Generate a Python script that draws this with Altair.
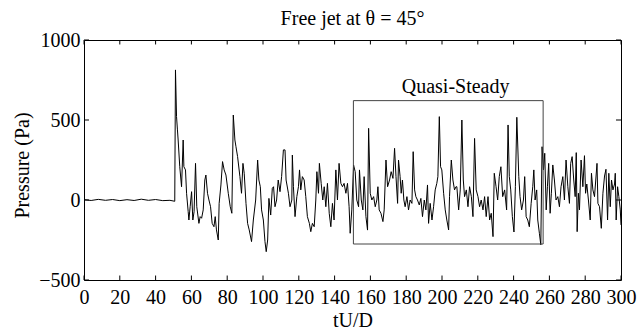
import altair as alt
import pandas as pd

# ---- data ----
t_vals = [
    0, 4, 8, 12, 16, 20, 24, 28, 32, 36, 40, 44, 48, 50.7,
    51.1, 51.7, 52.2, 52.6, 53.5, 54.5, 55.4, 55.8, 56.7, 57.3, 58.2, 58.6, 59.3, 60.1,
    60.8, 61.5, 62.3, 63.0, 64.2, 64.9, 65.7, 66.6, 67.5, 68.1, 69.0, 69.8, 70.7, 71.6,
    72.6, 73.3, 74.0, 75.0, 75.5, 76.5, 77.4, 78.3, 79.3, 80.6, 81.7, 82.6, 83.4, 84.3,
    84.9, 85.8, 87.1, 88.0, 88.8, 89.5, 90.5, 91.4, 92.3, 93.6, 94.6, 95.9, 97.0, 97.7,
    98.5, 99.2, 100.2, 101.1, 101.8, 102.6, 103.3, 104.3, 105.2, 105.9, 106.7, 107.6,
    108.5, 109.5, 110.4,
    111.4, 112.3, 112.9, 114.2, 115.1, 116.1, 116.4, 117.0, 117.9, 118.9, 119.8, 120.4,
    121.1, 122.0, 123.0, 123.9, 124.8, 125.9, 126.7, 127.6, 128.6, 129.5, 130.1, 131.0,
    131.5, 132.5, 133.4, 134.2, 135.1, 136.0, 137.0, 137.9, 138.8, 139.7, 140.7, 141.6,
    142.5, 143.5, 144.4, 145.3, 146.3, 147.2, 148.1, 148.7, 149.6, 150.6, 151.5, 152.4,
    153.4, 153.9, 154.9, 155.8, 156.5, 157.5, 158.4, 159.0, 159.9, 160.8, 161.8, 162.7,
    163.6, 164.2, 164.9, 165.9, 167.0, 167.7, 168.7, 169.6, 170.7, 171.6, 172.6, 173.5,
    174.3, 175.2,
    175.7, 176.6, 177.2, 177.9, 178.7, 179.4, 180.4, 181.3, 182.2, 183.2, 183.9, 184.7,
    185.4, 186.3, 187.3, 188.2, 189.1, 190.1, 191.0, 191.9, 192.5, 193.4, 194.4, 195.3,
    196.2, 197.1, 197.7, 198.5, 199.2, 199.9, 200.9, 201.8, 202.7, 203.7, 204.2, 205.2,
    206.1, 207.0, 207.8, 208.3, 209.3, 210.2, 211.1, 211.9, 212.6, 213.6, 214.5, 215.4,
    216.4, 217.3, 218.2, 219.1, 220.1, 221.0, 221.9, 222.9, 223.8, 224.7, 225.7, 226.6,
    227.5, 228.5, 229.2, 230.2, 231.1, 232.0, 232.9, 233.9, 235.0, 236.1, 236.9, 237.6,
    238.4, 239.3,
    240.2, 241.0, 241.8, 242.9, 243.6, 244.5, 245.5, 246.2, 247.0, 247.9, 248.8, 249.8,
    250.7, 251.3, 252.0, 252.9, 253.5, 254.4, 255.2, 255.9, 256.7, 257.4, 258.2, 258.9,
    259.6, 260.4, 261.1, 261.9, 262.8, 263.7, 264.7, 265.6, 266.5, 267.5, 268.4, 269.3,
    270.3, 271.2, 271.9, 272.7, 273.6, 274.4, 275.0, 275.5, 276.2, 276.8, 277.7, 278.7,
    279.6, 280.2, 280.9, 281.8, 282.8, 283.5, 284.3, 285.2, 286.6, 287.1, 288.0, 289.0,
    289.9, 290.8, 291.6, 292.5, 293.2, 294.0, 294.7, 295.5, 296.4, 296.8, 297.3, 298.1,
    298.8, 299.6, 300.0,
]
p_vals = [
    2, -3, 4, -2, 3, -4, 2, -3, 5, -2, 3, -4, -2, -8,
    813, 521, 438, 375, 208, 83, 375, 208, 188, 42, -73, -125, -42, 52,
    -125, -73, 229, -42, -146, -104, -114, -62, 125, 156, 42, 0, -42, -146,
    -167, -104, -187, -250, -21, 94, 240, 188, 156, 42, -42, -83, 531, 375,
    333, 271, 146, 42, 229, 167, -21, -146, -187, -260, -125, 0, 250, 125,
    83, -62, -125, -260, -323, -250, 10, -94, 73, 83, -42, 0,
    125, 52, 146,
    313, 313, 125, 42, -42, 0, 281, 83, -104, 21, 83, 188,
    63, 146, 125, 21, -104, -146, -198, -146, -167, 0, 177, 42,
    229, 104, 0, 83, -42, 104, -83, -167, -21, -125, 188, 0,
    229, 104, 83, 104, 42, 104, -42, -208, -62, 219, 177, 0,
    -42, 188, 0, -62, 146, -104, -188, 448, 42, 0, 21, -42,
    0, 83, -62, -83, -135, -62, 250, 83, 125, 177, 135, 323,
    146, -21,
    250, 146, 42, 125, 0, -42, 21, -62, 0, -21, 302, 63,
    21, 0, -31, 10, -104, 0, -62, 94, -146, -21, -125, -42,
    63, 104, 146, 521, 208, 188, 42, -62, -125, -187, 21, 250,
    125, 63, 83, 83, -62, 63, 500, 125, 21, 63, -42, 83,
    21, -104, 385, 63, 21, -42, 0, -62, 21, -104, 21, -125,
    -83, -229, 167, 83, 0, 146, 208, 21, 63, -62, 469, 146,
    63, -104,
    -200, 83, 517, 146, 21, -62, 0, 146, -104, -125, -167, -21,
    83, 188, 0, 63, -125, -208, -280, 333, 188, 292, -62, 83,
    229, -83, 42, 219, 125, 0, 21, -42, 83, 146, 0, 250,
    83, -21, 229, 271, 125, 21, 296, -198, 42, -62, 250, 83,
    277, 42, 100, 0, -125, 167, 63, 21, 229, -21, -42, -177,
    42, 150, 192, -125, 167, -42, 125, 63, 100, 167, -125, 83,
    21, -62, -156,
]
x_ticks = [0, 20, 40, 60, 80, 100, 120, 140, 160, 180, 200, 220, 240, 260, 280, 300]
y_ticks = [-500, 0, 500, 1000]
box_t = [150.5, 256.5]
box_p = [-275, 621]
note_text = ["Quasi-Steady"]
note_t = [207.6]
note_p = [668]

FONT = "Liberation Serif"
FS = 20

df = pd.DataFrame({"t": t_vals, "p": p_vals})
df_xt = pd.DataFrame({"t": x_ticks})
df_yt = pd.DataFrame({"p": y_ticks})
df_box = pd.DataFrame({"t0": [box_t[0]], "t1": [box_t[1]], "p0": [box_p[0]], "p1": [box_p[1]]})
df_note = pd.DataFrame({"label": note_text, "t": note_t, "p": note_p})

xs = alt.Scale(domain=[0, 300], nice=False, zero=False)
ys = alt.Scale(domain=[-500, 1000], nice=False, zero=False)

x_axis = alt.Axis(values=x_ticks, tickCount=40, title="tU/D", labelPadding=7, titleY=46,
                  titleBaseline="alphabetic", labelFlush=False, labelOverlap=False,
                  labelSeparation=0, format="d")
y_axis = alt.Axis(values=y_ticks, tickCount=20, title="Pressure (Pa)", labelPadding=4,
                  titleX=-62, titleY=125, titleBaseline="middle", titleAlign="center",
                  titleAngle=270, labelOverlap=False, format="d", labelFlush=False)

line = alt.Chart(df).mark_line(color="black", strokeWidth=1, clip=True).encode(
    x=alt.X("t:Q", scale=xs, axis=x_axis),
    y=alt.Y("p:Q", scale=ys, axis=y_axis),
)

box = alt.Chart(df_box).mark_rect(fillOpacity=0, stroke="#444444", strokeWidth=1).encode(
    x=alt.X("t0:Q", axis=x_axis), x2="t1:Q",
    y=alt.Y("p0:Q", axis=y_axis), y2="p1:Q"
)

note = alt.Chart(df_note).mark_text(font=FONT, fontSize=FS, color="black",
                                    baseline="alphabetic", align="center").encode(
    x=alt.X("t:Q", axis=x_axis), y=alt.Y("p:Q", axis=y_axis), text="label:N"
)

tick_bottom = alt.Chart(df_xt).mark_rule(color="black", strokeWidth=1).encode(
    x=alt.X("t:Q", axis=x_axis), y=alt.datum(-500), y2=alt.datum(-472))
tick_top = alt.Chart(df_xt).mark_rule(color="black", strokeWidth=1).encode(
    x=alt.X("t:Q", axis=x_axis), y=alt.datum(1000), y2=alt.datum(972))
tick_left = alt.Chart(df_yt).mark_rule(color="black", strokeWidth=1).encode(
    y=alt.Y("p:Q", axis=y_axis), x=alt.datum(0), x2=alt.datum(2.8))
tick_right = alt.Chart(df_yt).mark_rule(color="black", strokeWidth=1).encode(
    y=alt.Y("p:Q", axis=y_axis), x=alt.datum(300), x2=alt.datum(297.2))

chart = alt.layer(line, box, note, tick_bottom, tick_top, tick_left, tick_right).properties(
    width=537, height=240,
    title=alt.TitleParams("Free jet at θ = 45°", font=FONT, fontSize=FS, fontWeight="normal",
                          color="black", anchor="middle", baseline="alphabetic", offset=7, dy=22),
    autosize=alt.AutoSizeParams(type="none"),
    padding={"left": 84, "top": 40, "right": 16, "bottom": 51},
    background="white",
).configure_view(
    stroke="black", strokeWidth=1
).configure_axis(
    grid=False, ticks=False, domain=False, labelOverlap=False, labelSeparation=0,
    labelFont=FONT, labelFontSize=FS, labelColor="black",
    titleFont=FONT, titleFontSize=FS, titleFontWeight="normal", titleColor="black",
)

chart.save("out.html", embed_options={"renderer": "svg", "actions": False})
